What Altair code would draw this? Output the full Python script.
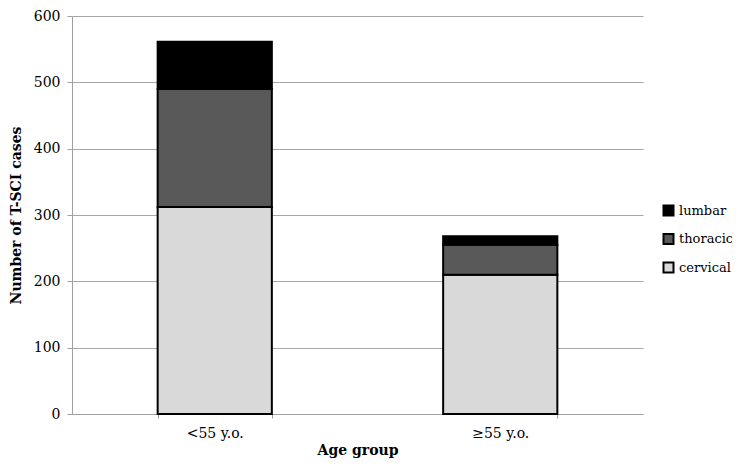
import altair as alt
import pandas as pd

age_groups = ["<55 y.o.", "≥55 y.o."]
regions = ["lumbar", "thoracic", "cervical"]
stack_order = {"cervical": 0, "thoracic": 1, "lumbar": 2}
cervical = [312, 210]
thoracic = [178, 45]
lumbar = [71, 13]
colors = ["#000000", "#595959", "#d9d9d9"]

rows = []
for i, g in enumerate(age_groups):
    for r, vals in (("cervical", cervical), ("thoracic", thoracic), ("lumbar", lumbar)):
        rows.append({"age": g, "region": r, "cases": vals[i], "ord": stack_order[r]})
df = pd.DataFrame(rows)

FONT = "DejaVu Serif"

chart = alt.Chart(df).mark_bar(stroke="#000000", strokeWidth=2).encode(
    x=alt.X("age:N", sort=age_groups,
            scale=alt.Scale(paddingInner=0.6, paddingOuter=0.3),
            axis=alt.Axis(title="Age group", labelAngle=0, tickBand="extent",
                          tickSize=4, labelPadding=8, titlePadding=3)),
    y=alt.Y("cases:Q", stack="zero",
            scale=alt.Scale(domain=[0, 600], nice=False),
            axis=alt.Axis(title="Number of T-SCI cases", values=[0, 100, 200, 300, 400, 500, 600],
                          tickSize=5, labelPadding=7, titlePadding=10)),
    color=alt.Color("region:N", sort=regions,
                    scale=alt.Scale(domain=regions, range=colors),
                    legend=alt.Legend(title=None, orient="none", legendX=590, legendY=188,
                                      symbolType="square", symbolSize=100,
                                      symbolStrokeColor="#000000", symbolStrokeWidth=2,
                                      labelFontSize=13, labelFont=FONT, labelColor="#000000",
                                      rowPadding=9.5, labelOffset=4)),
    order=alt.Order("ord:Q", sort="ascending"),
).properties(
    width=571, height=398,
    autosize=alt.AutoSizeParams(type="none"),
    padding={"left": 64, "top": 8, "right": 89, "bottom": 47},
).configure_view(stroke=None).configure_axis(
    labelFont=FONT, titleFont=FONT, labelFontSize=14, titleFontSize=14,
    titleFontWeight="bold", labelColor="#000000", titleColor="#000000",
    domainColor="#a0a0a0", tickColor="#a0a0a0", gridColor="#a6a6a6", gridWidth=1,
).configure_axisX(grid=False).configure_axisY(domain=True)

chart.save("out.html", embed_options={"renderer": "svg", "actions": False})
